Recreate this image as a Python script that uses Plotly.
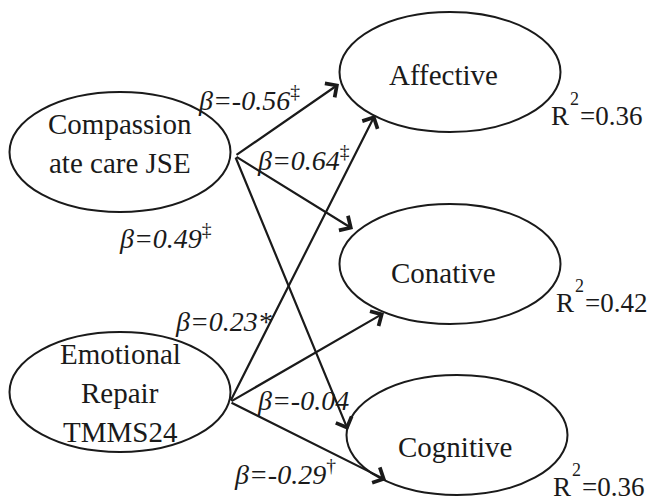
import plotly.graph_objects as go

# ---- data ----
predictors = ["Compassion<br>ate care JSE", "Emotional<br>Repair<br>TMMS24"]
outcomes = ["Affective", "Conative", "Cognitive"]
r_squared = [0.36, 0.42, 0.36]
beta_values = [-0.56, 0.64, 0.49, 0.23, -0.04, -0.29]
beta_marks = ["‡", "‡", "‡", "*", "", "†"]

# ---- layout geometry (pixel space) ----
W, H = 654, 503
FONT = "Liberation Serif, Times New Roman, serif"
INK = "#1a1a1a"
pred_pos = [(120, 152), (120, 392)]
pred_text_y = [143, 393]
LINE_GAP = 39
out_pos = [(450, 72), (450, 264), (457, 435)]
out_text = [(443, 75), (443, 273), (455, 447)]
RX, RY = 110.5, 60
pred_origin = [(235, 156), (230, 402)]
tips = [
    [(339, 84), (353, 229), (348, 430)],
    [(375, 115), (384, 313), (386, 480)],
]
beta_pos = [(196, 98), (255, 158), (117, 236), (173, 321), (255, 400), (232, 472)]
r2_pos = [(551, 116), (556, 303), (553, 487)]

fig = go.Figure()
fig.add_trace(go.Scatter(x=[0, W], y=[0, H], mode="markers",
                         marker=dict(opacity=0), hoverinfo="skip", showlegend=False))

shapes = []
annotations = []
for (cx, cy) in pred_pos + out_pos:
    shapes.append(dict(type="circle", xref="x", yref="y",
                       x0=cx - RX, x1=cx + RX, y0=cy - RY, y1=cy + RY,
                       line=dict(color=INK, width=2)))

for i, name in enumerate(predictors):
    lines = name.split("<br>")
    n = len(lines)
    for li, line in enumerate(lines):
        yy = pred_text_y[i] + (li - (n - 1) / 2) * LINE_GAP
        annotations.append(dict(x=pred_pos[i][0], y=yy, xref="x", yref="y",
                                text=line, showarrow=False,
                                font=dict(family=FONT, size=29, color=INK)))
for j, name in enumerate(outcomes):
    annotations.append(dict(x=out_text[j][0], y=out_text[j][1], xref="x", yref="y",
                            text=name, showarrow=False,
                            font=dict(family=FONT, size=29, color=INK)))

# arrows
for i in range(len(predictors)):
    ox, oy = pred_origin[i]
    for j in range(len(outcomes)):
        tx, ty = tips[i][j]
        annotations.append(dict(x=tx, y=ty, xref="x", yref="y",
                                ax=ox, ay=oy, axref="x", ayref="y",
                                text="", showarrow=True, arrowhead=4,
                                arrowsize=1.5, arrowwidth=2.2, arrowcolor=INK,
                                standoff=0, startstandoff=0))

# beta labels
for k, b in enumerate(beta_values):
    mark = beta_marks[k]
    if mark == "*":
        txt = "<i>β=%.2f*</i>" % b
    elif mark:
        txt = "<i>β=%.2f</i><sup>%s</sup>" % (b, mark)
    else:
        txt = "<i>β=%.2f</i>" % b
    annotations.append(dict(x=beta_pos[k][0], y=beta_pos[k][1], xref="x", yref="y",
                            text=txt, showarrow=False, xanchor="left",
                            font=dict(family=FONT, size=28, color=INK)))

# R squared labels: "R", raised "2", "=value"
for j, r in enumerate(r_squared):
    x0, y0 = r2_pos[j]
    common = dict(xref="x", yref="y", showarrow=False, xanchor="left",
                  borderpad=0, borderwidth=0)
    annotations.append(dict(x=x0, y=y0, text="R",
                            font=dict(family=FONT, size=27, color=INK), **common))
    annotations.append(dict(x=x0, y=y0, xshift=19, yshift=17, text="2",
                            font=dict(family=FONT, size=18, color=INK), **common))
    annotations.append(dict(x=x0, y=y0, xshift=29, text="=%.2f" % r,
                            font=dict(family=FONT, size=27, color=INK), **common))

fig.update_layout(
    width=W, height=H, margin=dict(l=0, r=0, t=0, b=0),
    paper_bgcolor="white", plot_bgcolor="white",
    xaxis=dict(range=[0, W], visible=False, fixedrange=True),
    yaxis=dict(range=[H, 0], visible=False, fixedrange=True),
    shapes=shapes, annotations=annotations, showlegend=False,
)
fig.write_html("out.html", config={"displayModeBar": False},
               post_script="document.body.style.margin='0';")
